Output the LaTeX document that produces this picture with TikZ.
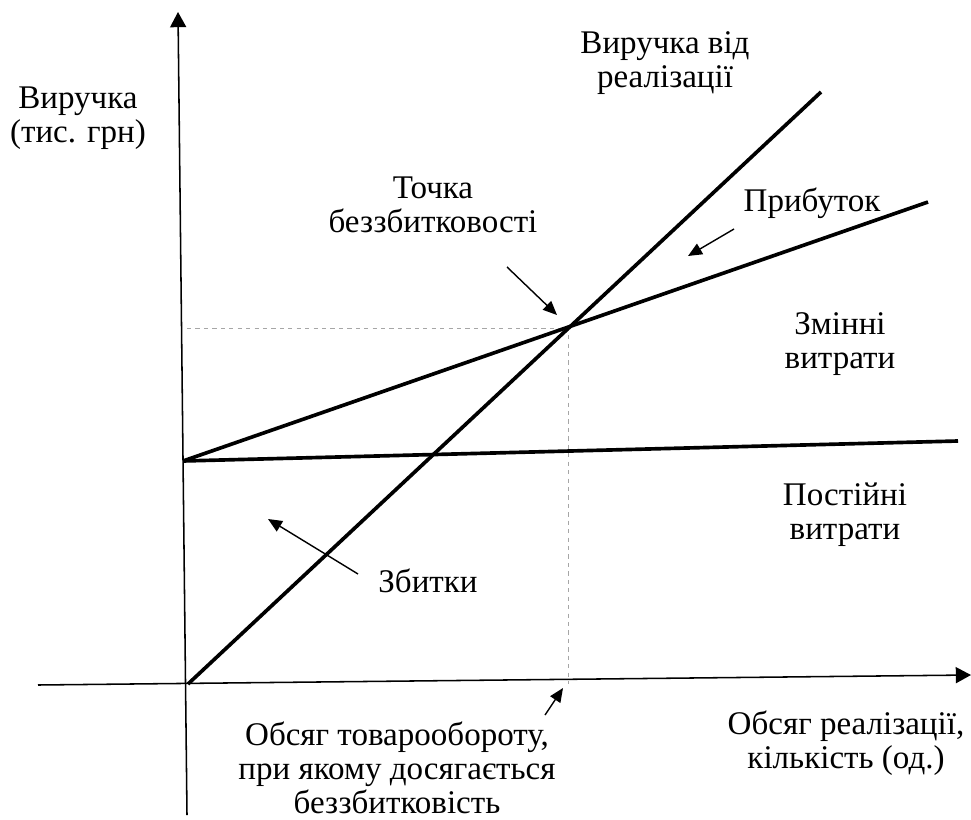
\documentclass[tikz,border=0pt]{standalone}
\usepackage{fontspec}
\setmainfont{Liberation Serif}
\usetikzlibrary{arrows.meta,positioning}

\tikzset{
  axis/.style={line width=1.1pt,-{Triangle[length=0.38cm,width=0.4cm]}},
  graph/.style={line width=2.6pt},
  guide/.style={gray!70,dashed,line width=0.6pt},
  pointer/.style={line width=1pt,-{Triangle[length=0.35cm,width=0.3cm]}},
  lbl/.style={align=center,font=\fontsize{23.5}{24.2}\selectfont,inner sep=0pt}
}

\begin{document}
\begin{tikzpicture}[x=0.025cm,y=-0.025cm]
    \useasboundingbox (0,0) rectangle (971,820);

    % Axes
    \coordinate (ybot) at (187,815);
    \coordinate (ytop) at (178,12);
    \coordinate (xleft) at (38,685);
    \coordinate (xright) at (971,675);
    \draw[axis] (ybot) -- (ytop);
    \draw[axis] (xleft) -- (xright);

    % Lines
    \coordinate (O) at (188,684);
    \coordinate (rev) at (821,92);
    \coordinate (F) at (183,461);
    \coordinate (fix) at (958,441);
    \coordinate (tot) at (928,202);
    \coordinate (be) at (568,328);
    \coordinate (beY) at (187,328);
    \coordinate (beX) at (568,684);
    \draw[guide] (beY) -- (be) -- (beX);
    \draw[graph] (O) -- (rev);
    \draw[graph] (F) -- (fix);
    \draw[graph] (F) -- (tot);

    % Labels
    \node[lbl] (ylab) at (78,118) {Виручка\\(тис. грн)};
    \node[lbl] (revlab) at (665,63) {Виручка від\\реалізації};
    \node[lbl] (belab) at (433,205) {Точка\\беззбитковості};
    \node[lbl] (proflab) at (812,203) {Прибуток};
    \node[lbl] (varlab) at (840,344) {Змінні\\витрати};
    \node[lbl] (fixlab) at (845,515) {Постійні\\витрати};
    \node[lbl] (losslab) at (428,581) {Збитки};
    \node[lbl] (qlab) at (397,768) {Обсяг товарообороту,\\при якому досягається\\беззбитковість};
    \node[lbl] (xlab) at (846,743) {Обсяг реалізації,\\кількість (од.)};

    % Pointers
    \coordinate (beTip) at (557,315);
    \coordinate (profTip) at (688,256);
    \coordinate (lossTip) at (268,519);
    \coordinate (qTip) at (563,688);
    \draw[pointer] (507,267) -- (beTip);
    \draw[pointer] (734,229) -- (profTip);
    \draw[pointer] (358,574) -- (lossTip);
    \draw[pointer] (545,715) -- (qTip);
\end{tikzpicture}
\end{document}
